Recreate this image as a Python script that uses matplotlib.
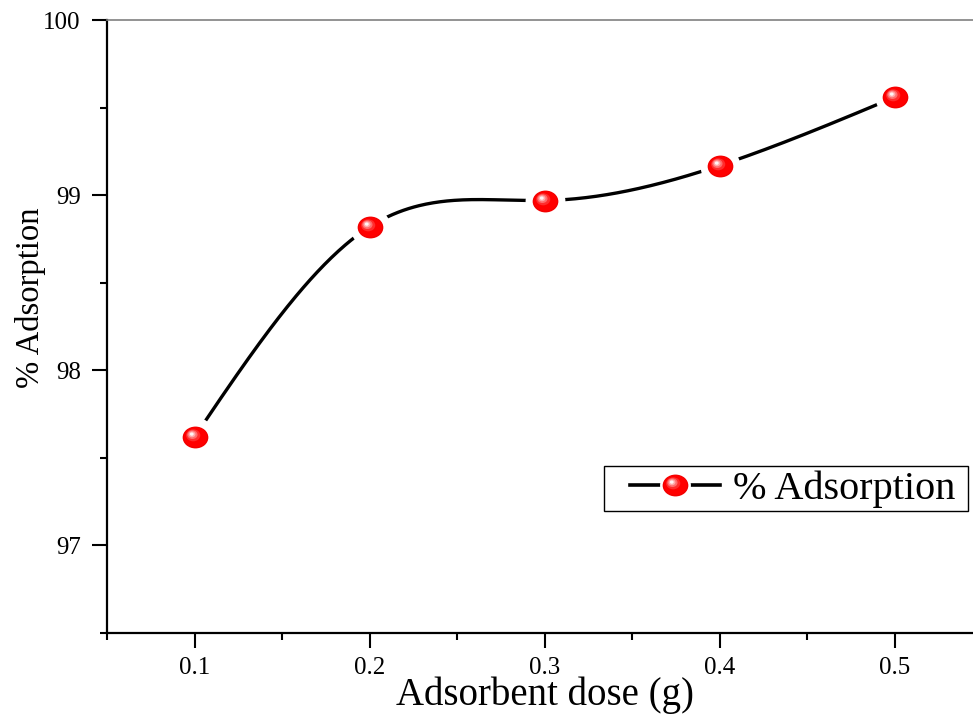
import matplotlib
matplotlib.use("Agg")
import matplotlib.pyplot as plt
import numpy as np
from matplotlib.path import Path
from matplotlib.lines import Line2D
from matplotlib.patches import Rectangle
from matplotlib.transforms import Affine2D
from matplotlib.legend_handler import HandlerTuple
from matplotlib.ticker import MultipleLocator

plt.rcParams['font.family'] = ['Liberation Serif', 'DejaVu Serif']

# Adsorbent dose vs. removal efficiency
dose = [0.1, 0.2, 0.3, 0.4, 0.5]
adsorption = [97.62, 98.82, 98.97, 99.17, 99.56]
dose_labels = ['0.1', '0.2', '0.3', '0.4', '0.5']
pct_ticks = [97, 98, 99, 100]


def natural_spline(x, y, n=400):
    x = np.asarray(x, float)
    y = np.asarray(y, float)
    h = np.diff(x)
    m = len(x)
    A = np.zeros((m, m))
    b = np.zeros(m)
    A[0, 0] = A[-1, -1] = 1
    for i in range(1, m - 1):
        A[i, i - 1] = h[i - 1]
        A[i, i] = 2 * (h[i - 1] + h[i])
        A[i, i + 1] = h[i]
        b[i] = 6 * ((y[i + 1] - y[i]) / h[i] - (y[i] - y[i - 1]) / h[i - 1])
    M = np.linalg.solve(A, b)
    xs = np.linspace(x[0], x[-1], n)
    k = np.clip(np.searchsorted(x, xs) - 1, 0, m - 2)
    t0 = x[k + 1] - xs
    t1 = xs - x[k]
    hk = h[k]
    ys = (M[k] * t0**3 + M[k + 1] * t1**3) / (6 * hk) \
        + (y[k] / hk - M[k] * hk / 6) * t0 + (y[k + 1] / hk - M[k + 1] * hk / 6) * t1
    return xs, ys


def disc(cx, cy, r, squash=0.85):
    # ellipse inside a fixed 2x2 frame so every layer shares one scale
    anchor = Path([[2, 2], [-2, -2]], [Path.MOVETO, Path.MOVETO])
    e = Path.circle((cx, cy), r).transformed(Affine2D().scale(1, squash))
    return Path.make_compound_path(anchor, e)


MS = 37
sphere_layers = [
    (disc(0, 0, 1.0), '#f20000'),
    (disc(0, 0.03, 0.9), '#ff0000'),
    (disc(-0.18, 0.2, 0.55), '#ff2c2c'),
    (disc(-0.24, 0.26, 0.4), '#ff6d6d'),
    (disc(-0.27, 0.29, 0.27), '#ffaaaa'),
    (disc(-0.29, 0.31, 0.15), '#fff4f4'),
]


def sphere_lines(ax_or_none, x, y, halo_r):
    lines = []
    kw = dict(ls='none', ms=MS, mec='none')
    halo = Line2D(x, y, marker=disc(0, 0, halo_r, squash=1.0), mfc='white',
                  zorder=3, **kw)
    lines.append(halo)
    for i, (p, c) in enumerate(sphere_layers):
        lines.append(Line2D(x, y, marker=p, mfc=c, zorder=4 + i, **kw))
    if ax_or_none is not None:
        for ln in lines:
            ax_or_none.add_line(ln)
    return lines


fig = plt.figure(figsize=(9.73, 7.15), dpi=100)
ax = fig.add_axes([0.110, 0.1147, 0.8993, 0.857])

xs, ys = natural_spline(dose, adsorption)
ax.plot(xs, ys, color='black', lw=2.4, zorder=2)
sphere_lines(ax, dose, adsorption, 1.55)

ax.set_xlim(0.05, 0.55)
ax.set_ylim(96.5, 100)
ax.xaxis.set_minor_locator(MultipleLocator(0.05))
ax.yaxis.set_minor_locator(MultipleLocator(0.5))
ax.set_xticks(dose)
ax.set_xticklabels(dose_labels, fontsize=18)
ax.set_yticks(pct_ticks)
ax.set_yticklabels([str(v) for v in pct_ticks], fontsize=18)

ax.tick_params(axis='both', which='major', direction='out', width=1.5,
               colors='black')
ax.tick_params(axis='x', which='major', length=11, pad=6)
ax.tick_params(axis='y', which='major', length=11, pad=8)
ax.tick_params(axis='both', which='minor', direction='out', width=1.5, length=5)

for s in ['left', 'bottom']:
    ax.spines[s].set_linewidth(1.6)
ax.spines['top'].set_color('#808080')
ax.spines['top'].set_linewidth(1.2)
ax.spines['right'].set_visible(False)

fig.text(545 / 973, 1 - 705 / 715, 'Adsorbent dose (g)', fontsize=28,
         ha='center', va='baseline')
fig.text(31 / 973, 1 - 298 / 715, '% Adsorption', fontsize=23.5,
         rotation=90, ha='center', va='center')

# legend: line + glossy ball, boxed separately
leg_line = Line2D([], [], color='black', lw=2.6)
leg_balls = sphere_lines(None, [], [], 1.2)
leg = fig.legend([tuple([leg_line] + leg_balls)], ['% Adsorption'],
                 handler_map={tuple: HandlerTuple(ndivide=1, pad=0)},
                 loc='center left', bbox_to_anchor=(630 / 973, 1 - 489 / 715),
                 fontsize=29, frameon=False, borderpad=0, borderaxespad=0,
                 handlelength=2.23, handletextpad=0.32)
fig.patches.append(Rectangle((604 / 973, 1 - 511 / 715), 364 / 973, 45 / 715,
                             transform=fig.transFigure, fill=False,
                             edgecolor='black', lw=1.0))

fig.savefig('out.png', dpi=100)
